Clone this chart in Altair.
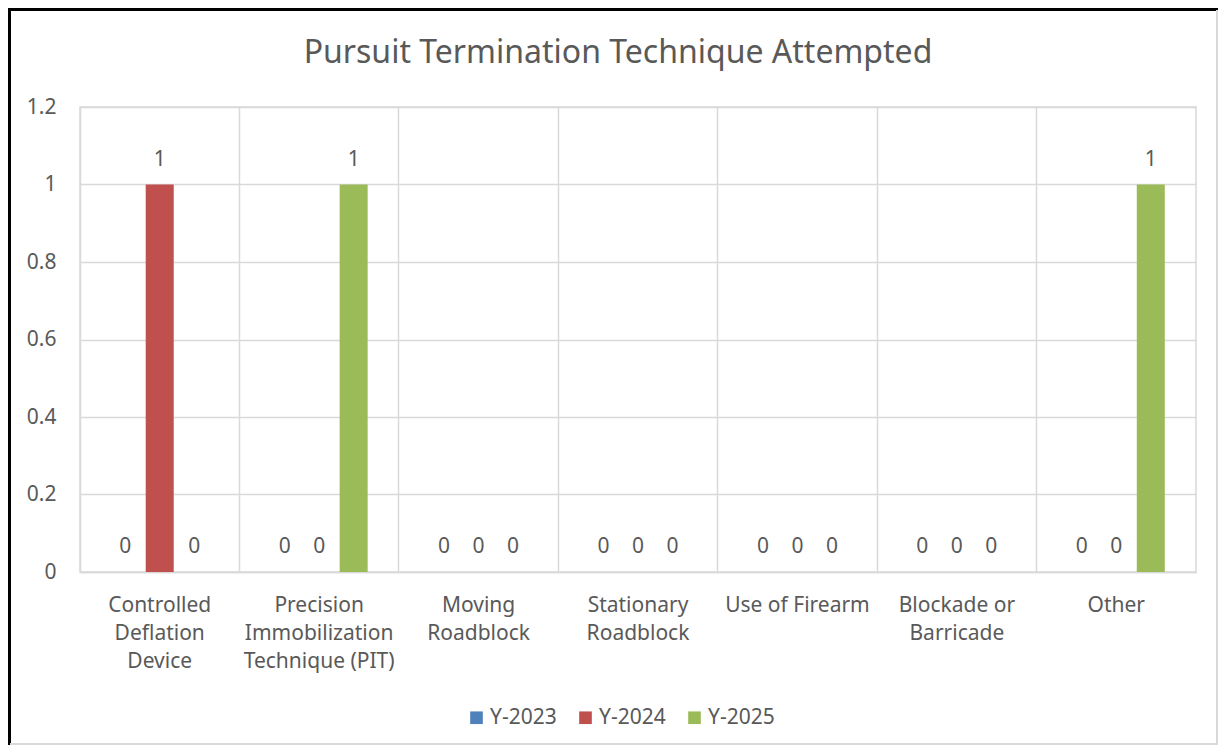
import altair as alt
import pandas as pd

title_text = "Pursuit Termination Technique Attempted"
categories = [
    "Controlled Deflation Device",
    "Precision Immobilization Technique (PIT)",
    "Moving Roadblock",
    "Stationary Roadblock",
    "Use of Firearm",
    "Blockade or Barricade",
    "Other",
]
label_lines = [
    ["Controlled", "Deflation", "Device"],
    ["Precision", "Immobilization", "Technique (PIT)"],
    ["Moving", "Roadblock"],
    ["Stationary", "Roadblock"],
    ["Use of Firearm"],
    ["Blockade or", "Barricade"],
    ["Other"],
]
series = ["Y-2023", "Y-2024", "Y-2025"]
y2023 = [0, 0, 0, 0, 0, 0, 0]
y2024 = [1, 0, 0, 0, 0, 0, 0]
y2025 = [0, 1, 0, 0, 0, 0, 1]
colors = ["#4f81bd", "#c0504d", "#9bbb59"]

rows = []
for s, vals in zip(series, [y2023, y2024, y2025]):
    for c, v in zip(categories, vals):
        rows.append({"category": c, "series": s, "value": v})
df = pd.DataFrame(rows)

FONT = "Noto Sans"
TXT = "#595959"
GRID = "#d9d9d9"
FS = 21

mapping = "{" + ", ".join(
    "'" + c + "': [" + ", ".join("'" + l + "'" for l in ls) + "]"
    for c, ls in zip(categories, label_lines)
) + "}"

x_enc = alt.X(
    "category:N",
    sort=categories,
    scale=alt.Scale(paddingInner=0, paddingOuter=0),
    axis=alt.Axis(
        title=None,
        labelAngle=0,
        labelExpr=mapping + "[datum.value]",
        labelFont=FONT,
        labelFontSize=FS,
        labelColor=TXT,
        labelLineHeight=28,
        labelPadding=22,
        ticks=False,
        grid=True,
        gridColor=GRID,
        gridWidth=1.5,
        bandPosition=0,
        domainColor=GRID,
        domainWidth=1.5,
    ),
)
xoff = alt.XOffset(
    "series:N",
    sort=series,
    scale=alt.Scale(paddingInner=0.188, paddingOuter=0.904),
)
y_enc = alt.Y(
    "value:Q",
    scale=alt.Scale(domain=[0, 1.2], nice=False),
    axis=alt.Axis(
        title=None,
        values=[0, 0.2, 0.4, 0.6, 0.8, 1.0, 1.2],
        format=".1~f",
        labelFont=FONT,
        labelFontSize=FS,
        labelColor=TXT,
        labelPadding=24,
        ticks=False,
        domain=False,
        grid=True,
        gridColor=GRID,
        gridWidth=1.5,
    ),
)

base = alt.Chart(df)

bars = base.mark_bar().encode(
    x=x_enc,
    xOffset=xoff,
    y=y_enc,
    color=alt.Color(
        "series:N",
        sort=series,
        scale=alt.Scale(domain=series, range=colors),
        legend=alt.Legend(
            title=None,
            orient="none",
            direction="horizontal",
            legendX=386,
            legendY=600,
            symbolType="square",
            symbolSize=160,
            symbolStrokeWidth=0,
            labelFont=FONT,
            labelFontSize=FS,
            labelColor=TXT,
            labelOffset=3,
            columnPadding=18,
        ),
    ),
)

labels = base.mark_text(
    font=FONT, fontSize=FS, color=TXT, baseline="middle", dy=-25
).encode(
    x=alt.X("category:N", sort=categories),
    xOffset=alt.XOffset("series:N", sort=series),
    y=alt.Y("value:Q"),
    text=alt.Text("value:Q"),
)

title = alt.Chart(pd.DataFrame({"t": [title_text]})).mark_text(
    font=FONT, fontSize=32, color=TXT, align="center", baseline="alphabetic"
).encode(x=alt.value(538), y=alt.value(-44), text="t:N")

frame_top = base.mark_rule(color="#000000", strokeWidth=2.5).encode(
    x=alt.value(-72), x2=alt.value(1138), y=alt.value(-98)
)
frame_left = base.mark_rule(color="#000000", strokeWidth=2.5).encode(
    x=alt.value(-71), y=alt.value(-99), y2=alt.value(638)
)
frame_right = base.mark_rule(color=GRID, strokeWidth=1.5).encode(
    x=alt.value(1137), y=alt.value(-97), y2=alt.value(638)
)
frame_bottom = base.mark_rule(color=GRID, strokeWidth=1.5).encode(
    x=alt.value(-70), x2=alt.value(1138), y=alt.value(637)
)

chart = (
    alt.layer(bars, labels, title, frame_top, frame_left, frame_right, frame_bottom)
    .properties(
        width=1116,
        height=465,
        padding={"left": 72, "top": 99, "right": 22, "bottom": 173},
        autosize=alt.AutoSizeParams(type="none"),
        background="white",
    )
    .configure_view(stroke=GRID, strokeWidth=1.5)
)

chart.save("out.html", embed_options={"renderer": "svg", "actions": False})
